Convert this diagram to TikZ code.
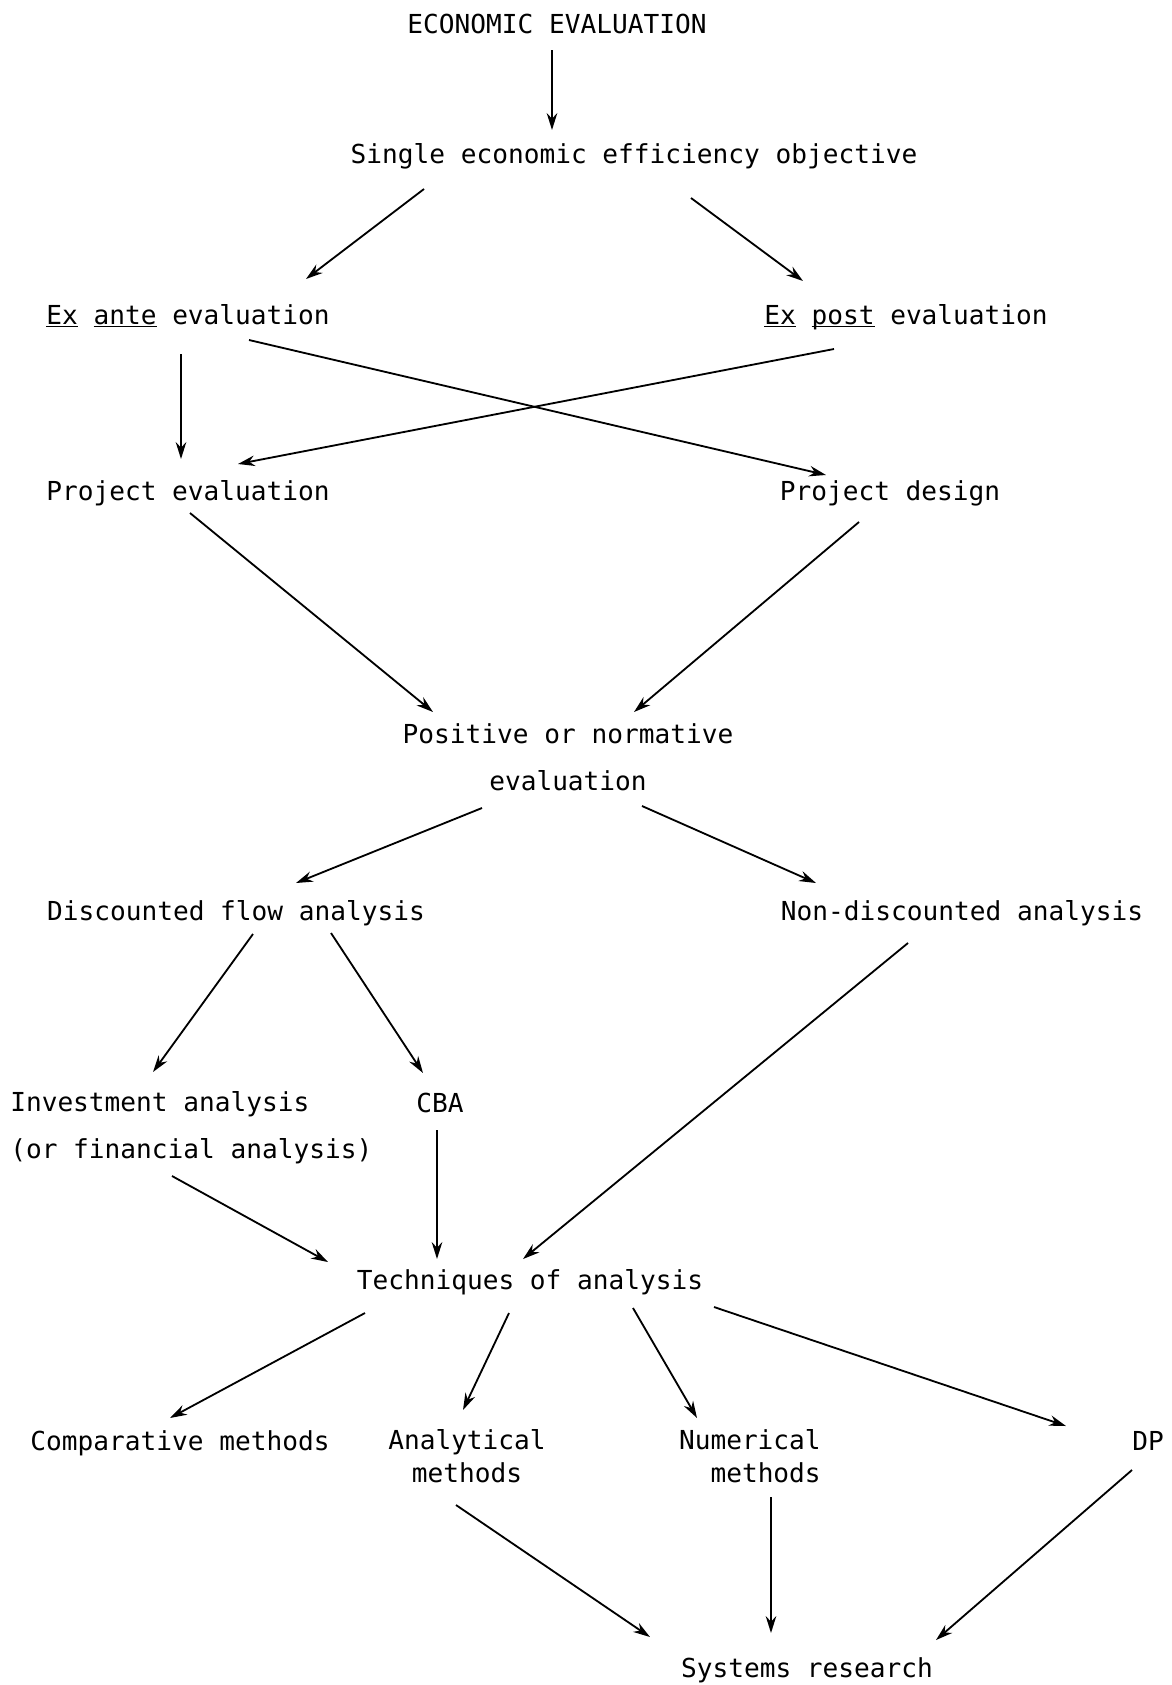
\documentclass[tikz,border=0pt]{standalone}
\usepackage{fontspec}
\setmonofont{DejaVu Sans Mono}
\usetikzlibrary{arrows.meta,calc}

\begin{document}
\begin{tikzpicture}[x=0.25mm, y=-0.25mm,
    every node/.style={font=\ttfamily\fontsize{18.6pt}{33pt}\selectfont, inner sep=0pt, anchor=base},
    tight/.style={font=\ttfamily\fontsize{18.6pt}{23pt}\selectfont},
    flow/.style={-{Stealth[length=12pt,width=7.5pt]}, line width=1.3pt}]
    \useasboundingbox (0,0) rectangle (1172,1685);

    % Objective and evaluation type
    \node (eco) at (557,33) {ECONOMIC EVALUATION};
    \node (single) at (634,163) {Single economic efficiency objective};
    \node (exante) at (188,324) {\underline{Ex} \underline{ante} evaluation};
    \node (expost) at (906,324) {\underline{Ex} \underline{\smash{post}} evaluation};
    \node (projeval) at (188,500) {Project evaluation};
    \node (projdesign) at (890,500) {Project design};
    \node[align=center] (positive) at (568,790) {Positive or normative\\evaluation};

    % Analysis
    \node (discounted) at (236,920) {Discounted flow analysis};
    \node (nondisc) at (962,920) {Non-discounted analysis};
    \node[anchor=base west, align=left] (invest) at (10,1158) {Investment analysis\\(or financial analysis)};
    \node (cba) at (440,1112) {CBA};
    \node (techniques) at (530,1289) {Techniques of analysis};

    % Methods
    \node (comparative) at (180,1450) {Comparative methods};
    \node[tight, align=center] (analytical) at (467,1482) {Analytical\\methods};
    \node[tight, anchor=base east, align=right] (numerical) at (821,1482) {Numerical\\methods};
    \node (dp) at (1148,1450) {DP};
    \node (systems) at (807,1677) {Systems research};

    % Arrows
    \draw[flow] ($(eco.base)+(-5,17)$) -- ($(single.base)+(-82,-33)$);
    \draw[flow] ($(single.base)+(-210,26)$) -- ($(exante.base)+(118,-45)$);
    \draw[flow] ($(single.base)+(57,35)$) -- ($(expost.base)+(-103,-43)$);
    \draw[flow] ($(exante.base)+(-7,30)$) -- ($(projeval.base)+(-7,-41)$);
    \draw[flow] ($(exante.base)+(61,16)$) -- ($(projdesign.base)+(-64,-25)$);
    \draw[flow] ($(expost.base)+(-72,25)$) -- ($(projeval.base)+(50,-36)$);
    \draw[flow] ($(projeval.base)+(2,13)$) -- ($(positive.base)+(-135,-78)$);
    \draw[flow] ($(projdesign.base)+(-31,22)$) -- ($(positive.base)+(66,-78)$);
    \draw[flow] ($(positive.base)+(-86,18)$) -- ($(discounted.base)+(60,-37)$);
    \draw[flow] ($(positive.base)+(74,16)$) -- ($(nondisc.base)+(-146,-37)$);
    \draw[flow] ($(discounted.base)+(17,14)$) -- ($(invest.base west)+(143,-86)$);
    \draw[flow] ($(discounted.base)+(95,13)$) -- ($(cba.base)+(-17,-39)$);
    \draw[flow] ($(invest.base west)+(162,18)$) -- ($(techniques.base)+(-202,-27)$);
    \draw[flow] ($(cba.base)+(-3,18)$) -- ($(techniques.base)+(-93,-30)$);
    \draw[flow] ($(nondisc.base)+(-54,23)$) -- ($(techniques.base)+(-7,-30)$);
    \draw[flow] ($(techniques.base)+(-165,24)$) -- ($(comparative.base)+(-10,-32)$);
    \draw[flow] ($(techniques.base)+(-21,24)$) -- ($(analytical.base)+(-4,-72)$);
    \draw[flow] ($(techniques.base)+(103,19)$) -- ($(numerical.base east)+(-124,-64)$);
    \draw[flow] ($(techniques.base)+(184,18)$) -- ($(dp.base)+(-82,-24)$);
    \draw[flow] ($(analytical.base)+(-11,23)$) -- ($(systems.base)+(-157,-40)$);
    \draw[flow] ($(numerical.base east)+(-50,15)$) -- ($(systems.base)+(-36,-44)$);
    \draw[flow] ($(dp.base)+(-16,20)$) -- ($(systems.base)+(129,-37)$);
\end{tikzpicture}
\end{document}
